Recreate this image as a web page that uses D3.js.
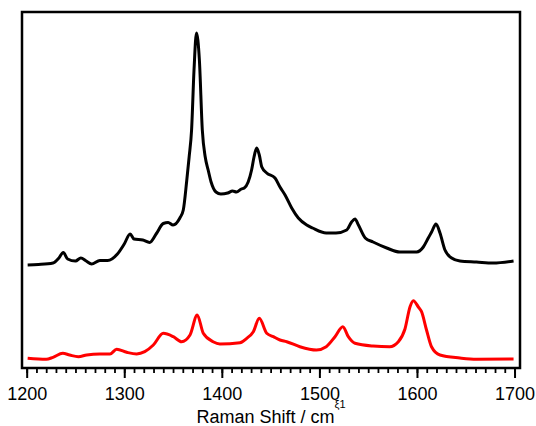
<!DOCTYPE html>
<html>
<head>
<meta charset="utf-8">
<script src="https://cdn.jsdelivr.net/npm/d3@7"></script>
<style>
  html, body { margin: 0; padding: 0; background: #fff; }
  svg { display: block; }
  text { font-family: "Liberation Sans", Arial, Helvetica, sans-serif; }
</style>
</head>
<body>
<svg id="chart" width="536" height="426"></svg>
<script>
// Raman shift (cm^-1) for each spectrum, and intensity (arbitrary units, offset spectra)
const blackShift = [1201,1212,1227,1233,1237.5,1242,1250,1255.5,1261,1266.5,1275,1283,1293,1300,1306,1310,1319,1326,1333,1340,1345,1350,1357,1360.5,1364,1366.5,1369,1371.5,1374,1377,1380,1383,1386,1389,1394,1399,1406,1411,1415,1420,1423,1427,1430.5,1433,1435.8,1438.4,1441,1446,1454.5,1459.6,1464.8,1471.6,1478.4,1487,1493,1507,1517,1528,1533,1536.5,1540,1547,1555,1569,1582.6,1593,1599.7,1606.5,1611.6,1615,1619.5,1623.6,1628.7,1635.5,1644,1661,1678,1699];
const blackIntensity = [103,103.5,105,110,115.5,109,107,110,107,104,107.5,107.5,114,124,134,129,128,125.5,134.5,144.5,145.5,143,150,158,187,211,238,298,335,308,238,211,198,186,176,174,175,177,176,179,180,186,198,211,220,213,201,195,190,181,173,160,150,143,140,135,135,138,146,149,143,130,126,120,116,116,116,121,130,136,144,135,118,110,107,106,105,107];

const redShift = [1201,1220,1227,1237,1244,1253,1261.5,1275,1285.4,1292.2,1302.5,1312.7,1321,1329.8,1340,1350.3,1358.8,1367.4,1374.8,1381,1391,1398,1418.6,1425.5,1432.3,1438.4,1446,1452.8,1459.6,1466.5,1480,1497,1507,1516,1524,1529.6,1536.5,1555,1572,1580.9,1587.7,1592.9,1596.3,1601.4,1604.7,1609.8,1614.9,1623.6,1644,1661,1699];
const redIntensity = [9.7,8.7,10.7,14.7,13,11.3,13,14,14,18.7,15.7,14,16.3,23,34.7,31.3,26.3,33,53,34.7,26.3,24,25.3,29.7,36.3,49.7,34.7,31.3,28,26.3,21.3,18,21.3,31.3,41.3,31.3,24.7,22,21.3,26.3,39,61.3,67.3,61,56.3,38,21.3,13,10,8.7,9];

const xDomain = [1195.2, 1705.6];
const yDomain = [0, 356];
const majorTicks = [1200, 1300, 1400, 1500, 1600, 1700];
const minorTicks = d3.range(1200, 1701, 10);
const xTitle = "Raman Shift / cm";
const xTitleSup = "ξ1";

(function () {
const svg = d3.select("#chart");
const mLeft = 22, mRight = 520, mTop = 12, mBottom = 368;

const x = d3.scaleLinear().domain(xDomain).range([mLeft, mRight]);
const y = d3.scaleLinear().domain(yDomain).range([mBottom, mTop]);

// minor ticks
const minorAxis = d3.axisBottom(x).tickValues(minorTicks).tickSize(5).tickFormat("");
const gMinor = svg.append("g").attr("transform", `translate(0,${mBottom})`).call(minorAxis);
gMinor.select(".domain").remove();
gMinor.selectAll(".tick line").attr("stroke", "#000").attr("stroke-width", 1.8);

// major ticks with labels
const majorAxis = d3.axisBottom(x).tickValues(majorTicks).tickSize(10).tickPadding(9).tickFormat(d3.format("d"));
const gMajor = svg.append("g").attr("transform", `translate(0,${mBottom})`).call(majorAxis);
gMajor.select(".domain").remove();
gMajor.selectAll(".tick line").attr("stroke", "#000").attr("stroke-width", 2);
gMajor.selectAll(".tick text")
  .attr("font-size", "18px")
  .attr("font-family", "'Liberation Sans', Arial, sans-serif")
  .attr("fill", "#000");

// spectra
const line = d3.line().x(d => x(d[0])).y(d => y(d[1])).curve(d3.curveMonotoneX);
svg.append("path")
  .datum(blackShift.map((s, i) => [s, blackIntensity[i]]))
  .attr("d", line)
  .attr("fill", "none").attr("stroke", "#000").attr("stroke-width", 3).attr("stroke-linejoin", "round");
svg.append("path")
  .datum(redShift.map((s, i) => [s, redIntensity[i]]))
  .attr("d", line)
  .attr("fill", "none").attr("stroke", "#ff0000").attr("stroke-width", 3).attr("stroke-linejoin", "round");

// frame
svg.append("rect")
  .attr("x", mLeft).attr("y", mTop).attr("width", mRight - mLeft).attr("height", mBottom - mTop)
  .attr("fill", "none").attr("stroke", "#000").attr("stroke-width", 2.5);

// axis title
const title = svg.append("text")
  .attr("x", (mLeft + mRight) / 2)
  .attr("y", 423)
  .attr("text-anchor", "middle")
  .attr("font-size", "18px")
  .attr("fill", "#000");
title.append("tspan").text(xTitle);
title.append("tspan").attr("dy", -15).attr("font-size", "11px").text(xTitleSup);
})();
</script>
</body>
</html>
